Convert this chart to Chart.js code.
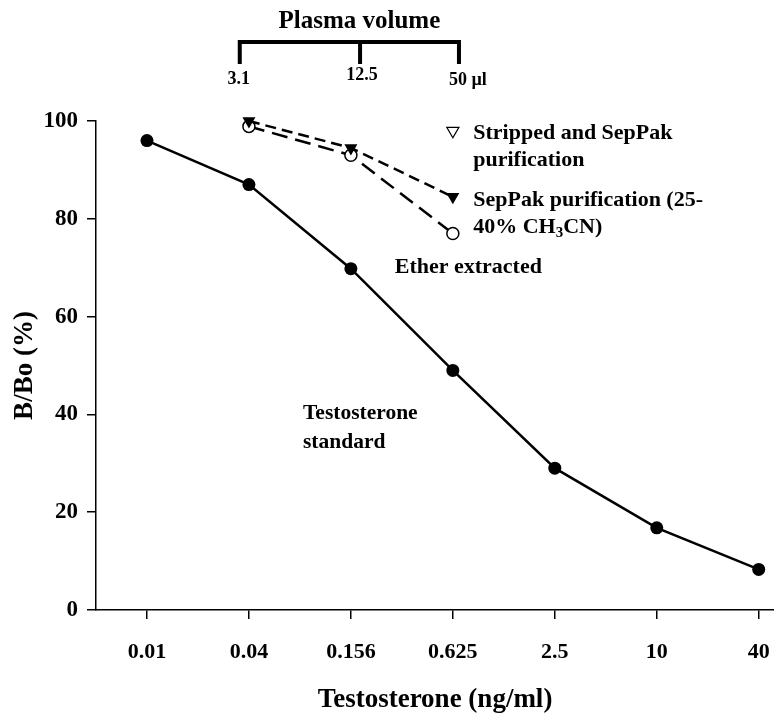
<!DOCTYPE html>
<html>
<head>
<meta charset="utf-8">
<script src="https://cdn.jsdelivr.net/npm/chart.js@4/dist/chart.umd.min.js"></script>
<style>
  html, body { margin: 0; padding: 0; background: #fff; }
  canvas { display: block; }
</style>
</head>
<body>
<canvas id="grafico" width="774" height="719"></canvas>
<script>
// concentrations on the x axis (ng/ml)
const concentracoes = ["0.01", "0.04", "0.156", "0.625", "2.5", "10", "40"];
// B/Bo (%) values
const padrao = [96, 87, 69.8, 49, 29, 16.8, 8.3];
const sepPak = [null, 100, 94.5, 84.5, null, null, null];
const eter = [null, 98.9, 93, 77, null, null, null];
const stripped = [null, null, null, 98, null, null, null];
// plasma volume bracket on top
const volumeLabels = ["3.1", "12.5", "50 \u00b5l"];
const volumePos = [0.91, 2.09, 3.06];

const fonte = "'Liberation Serif', 'Times New Roman', serif";

function pontos(valores) {
    return valores.map((v, i) => ({ x: i, y: v }));
}

const anotacoes = {
    id: "anotacoes",
    afterDraw(chart) {
        const ctx = chart.ctx;
        const x = chart.scales.x;
        const y = chart.scales.y;
        ctx.save();
        ctx.fillStyle = "#000";
        ctx.strokeStyle = "#000";

        // plasma volume bracket
        const px = volumePos.map(v => x.getPixelForValue(v));
        ctx.lineWidth = 4;
        ctx.lineCap = "square";
        ctx.beginPath();
        ctx.moveTo(px[0], 42);
        ctx.lineTo(px[2], 42);
        px.forEach(p => { ctx.moveTo(p, 42); ctx.lineTo(p, 62); });
        ctx.stroke();

        ctx.font = "bold 25px " + fonte;
        ctx.textAlign = "center";
        ctx.textBaseline = "middle";
        ctx.fillText("Plasma volume", (px[0] + px[2]) / 2 + 10, 22);

        ctx.font = "bold 18px " + fonte;
        ctx.fillText(volumeLabels[0], px[0] - 1, 79);
        ctx.fillText(volumeLabels[1], px[1] + 2, 75);
        ctx.textAlign = "left";
        ctx.fillText(volumeLabels[2], px[2] - 10, 80);

        // series labels
        ctx.font = "bold 22px " + fonte;
        const esq = x.getPixelForValue(3.2);
        ctx.fillText("Stripped and SepPak", esq, y.getPixelForValue(97.5));
        ctx.fillText("purification", esq, y.getPixelForValue(92));
        ctx.fillText("SepPak purification (25-", esq, y.getPixelForValue(83.8));
        const ly = y.getPixelForValue(78.3);
        let cx = esq;
        ctx.fillText("40% CH", cx, ly);
        cx += ctx.measureText("40% CH").width;
        ctx.font = "bold 15px " + fonte;
        ctx.fillText("3", cx, ly + 6);
        cx += ctx.measureText("3").width;
        ctx.font = "bold 22px " + fonte;
        ctx.fillText("CN)", cx, ly);

        ctx.fillText("Ether extracted", x.getPixelForValue(2.43), y.getPixelForValue(70.1));

        ctx.font = "bold 21.5px " + fonte;
        ctx.fillText("Testosterone", x.getPixelForValue(1.53), y.getPixelForValue(40.1));
        ctx.fillText("standard", x.getPixelForValue(1.53), y.getPixelForValue(34.2));
        ctx.restore();
    }
};

const ctx = document.getElementById("grafico").getContext("2d");
const grafico = new Chart(ctx, {
    type: "line",
    data: {
        datasets: [
            {
                label: "Testosterone standard",
                data: pontos(padrao),
                borderColor: "#000",
                backgroundColor: "#000",
                borderWidth: 2.5,
                pointRadius: 6.5,
                pointBorderWidth: 0,
                pointStyle: "circle",
                clip: false
            },
            {
                label: "SepPak purification (25-40% CH3CN)",
                data: pontos(sepPak),
                borderColor: "#000",
                backgroundColor: "#000",
                borderWidth: 2.5,
                borderDash: [11, 6],
                pointStyle: "triangle",
                rotation: 180,
                pointRadius: 7.5,
                pointBorderWidth: 0,
                clip: false
            },
            {
                label: "Ether extracted",
                data: pontos(eter),
                borderColor: "#000",
                backgroundColor: "#fff",
                borderWidth: 2.5,
                borderDash: [16, 8],
                pointRadius: 6,
                pointBorderWidth: 1.5,
                pointBorderColor: "#000",
                pointBackgroundColor: "#fff",
                clip: false
            },
            {
                label: "Stripped and SepPak purification",
                data: pontos(stripped),
                showLine: false,
                pointStyle: "triangle",
                rotation: 180,
                pointRadius: 7,
                pointBorderWidth: 1.2,
                pointBorderColor: "#000",
                pointBackgroundColor: "#fff",
                clip: false
            }
        ]
    },
    options: {
        responsive: false,
        animation: false,
        layout: { autoPadding: false, padding: { top: 121, right: 0, left: 0, bottom: 0 } },
        plugins: {
            legend: { display: false },
            tooltip: { enabled: false }
        },
        scales: {
            x: {
                type: "linear",
                min: -0.5,
                max: 6.15,
                afterFit: s => { s.height = 109; s.paddingRight = 0; s.paddingLeft = 0; },
                afterBuildTicks: s => { s.ticks = concentracoes.map((c, i) => ({ value: i })); },
                border: { display: true, color: "#000", width: 1.5 },
                grid: { drawOnChartArea: false, drawTicks: true, tickLength: 9, color: "#000", lineWidth: 1.5 },
                ticks: {
                    callback: v => concentracoes[v],
                    color: "#000",
                    padding: 20,
                    maxRotation: 0,
                    autoSkip: false,
                    font: { family: fonte, size: 22, weight: "bold" }
                },
                title: {
                    display: true,
                    text: "Testosterone (ng/ml)",
                    color: "#000",
                    padding: { top: 0, bottom: 3 },
                    font: { family: fonte, size: 27, weight: "bold", lineHeight: 1.2 }
                }
            },
            y: {
                min: 0,
                max: 100,
                afterFit: s => { s.width = 96; },
                border: { display: true, color: "#000", width: 1.5 },
                grid: { drawOnChartArea: false, drawTicks: true, tickLength: 9, color: "#000", lineWidth: 1.5 },
                ticks: {
                    stepSize: 20,
                    color: "#000",
                    padding: 9,
                    font: { family: fonte, size: 23, weight: "bold" }
                },
                title: {
                    display: true,
                    text: "B/Bo (%)",
                    color: "#000",
                    padding: { top: 9, bottom: 0 },
                    font: { family: fonte, size: 27, weight: "bold", lineHeight: 1.2 }
                }
            }
        }
    },
    plugins: [anotacoes]
});
</script>
</body>
</html>
